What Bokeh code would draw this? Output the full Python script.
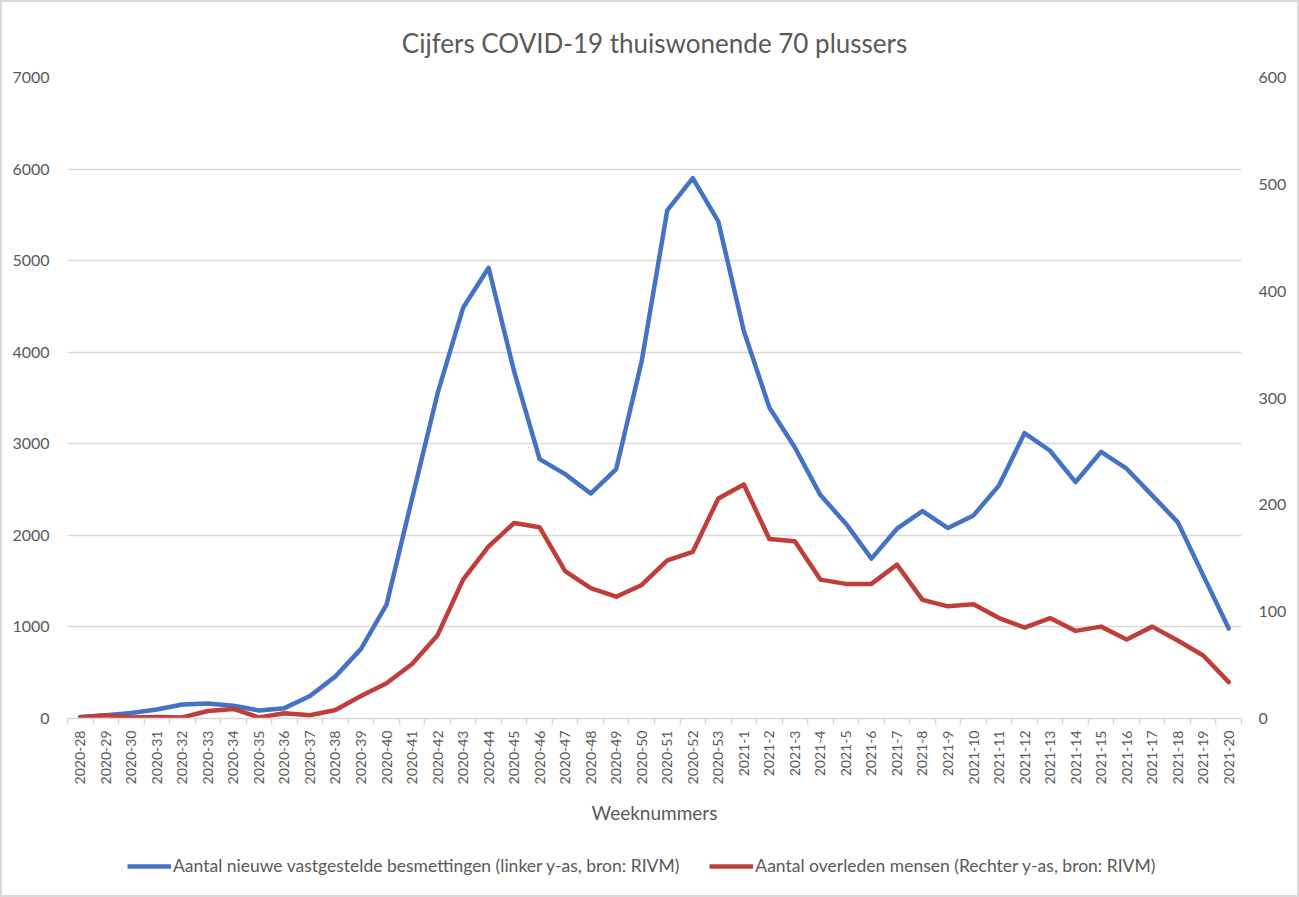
from math import pi
from bokeh.plotting import figure
from bokeh.layouts import column
from bokeh.models import Range1d, LinearAxis, FixedTicker, Legend, LegendItem
from bokeh.embed import file_html
from bokeh.resources import INLINE

weeks = [
    "2020-28", "2020-29", "2020-30", "2020-31", "2020-32", "2020-33", "2020-34",
    "2020-35", "2020-36", "2020-37", "2020-38", "2020-39", "2020-40", "2020-41",
    "2020-42", "2020-43", "2020-44", "2020-45", "2020-46", "2020-47", "2020-48",
    "2020-49", "2020-50", "2020-51", "2020-52", "2020-53",
    "2021-1", "2021-2", "2021-3", "2021-4", "2021-5", "2021-6", "2021-7",
    "2021-8", "2021-9", "2021-10", "2021-11", "2021-12", "2021-13", "2021-14",
    "2021-15", "2021-16", "2021-17", "2021-18", "2021-19", "2021-20",
]

besmettingen = [
    17, 36, 61, 98, 153, 164, 140, 88, 113, 245, 460, 760, 1243, 2400, 3550,
    4485, 4922, 3790, 2833, 2669, 2457, 2724, 3905, 5548, 5902, 5428,
    4232, 3396, 2960, 2440, 2128, 1746, 2073, 2265, 2080, 2218, 2546, 3117,
    2924, 2582, 2913, 2728, 2437, 2145, 1563, 982,
]

overleden = [
    1, 3, 1, 1.5, 1, 7, 9, 1, 5, 3, 8, 21, 33, 51, 78, 130, 161, 183, 179,
    138, 122, 114, 125, 148, 156, 206,
    219, 168, 166, 130, 126, 126, 144, 111, 105, 107, 94, 85, 94, 82, 86,
    74, 86, 73, 59, 34,
]

left_ticks = [0, 1000, 2000, 3000, 4000, 5000, 6000, 7000]
right_ticks = [0, 100, 200, 300, 400, 500, 600]

title_text = "Cijfers COVID-19 thuiswonende 70 plussers"
x_label = "Weeknummers"
label_blue = "Aantal nieuwe vastgestelde besmettingen (linker y-as, bron: RIVM)"
label_red = "Aantal overleden mensen (Rechter y-as, bron: RIVM)"

FONT = "Lato"
GREY = "#595959"
GRID = "#d9d9d9"
BLUE = "#4472C4"
RED = "#BF3E3A"

x = list(range(len(weeks)))

p = figure(
    width=1295, height=827,
    x_range=Range1d(-0.5, len(weeks) - 0.5),
    y_range=Range1d(0, 7000),
    output_backend="svg", toolbar_location=None,
    min_border_left=65, min_border_right=56, min_border_top=75, min_border_bottom=111,
)
p.extra_y_ranges = {"right": Range1d(0, 600)}

p.title.text = title_text
p.title.align = "center"
p.title.text_font = FONT
p.title.text_font_style = "normal"
p.title.text_font_size = "26px"
p.title.text_color = GREY
p.title.standoff = 38

p.outline_line_color = None
p.xgrid.grid_line_color = None
p.ygrid.grid_line_color = GRID
p.ygrid.grid_line_width = 1.5

# x axis
xa = p.xaxis[0]
xa.ticker = FixedTicker(ticks=x, minor_ticks=[i - 0.5 for i in range(len(weeks) + 1)])
xa.major_label_overrides = {i: w for i, w in enumerate(weeks)}
xa.major_label_orientation = pi / 2
xa.major_tick_line_color = None
xa.minor_tick_line_color = GRID
xa.minor_tick_line_width = 1.5
xa.minor_tick_out = 6
xa.minor_tick_in = 0
xa.axis_line_color = GRID
xa.axis_line_width = 1.5
xa.major_label_standoff = 6
xa.major_label_text_font = FONT
xa.major_label_text_font_size = "14px"
xa.major_label_text_color = GREY
xa.axis_label = x_label
xa.axis_label_text_font = FONT
xa.axis_label_text_font_style = "normal"
xa.axis_label_text_font_size = "19px"
xa.axis_label_text_color = GREY
xa.axis_label_standoff = 14

# left y axis
ya = p.yaxis[0]
ya.ticker = FixedTicker(ticks=left_ticks)
ya.axis_line_color = None
ya.major_tick_line_color = None
ya.minor_tick_line_color = None
ya.major_label_standoff = 12
ya.major_label_text_font = FONT
ya.major_label_text_font_size = "16px"
ya.major_label_text_color = GREY

# right y axis
ra = LinearAxis(y_range_name="right", ticker=FixedTicker(ticks=right_ticks))
ra.axis_line_color = None
ra.major_tick_line_color = None
ra.minor_tick_line_color = None
ra.major_label_standoff = 11
ra.major_label_text_font = FONT
ra.major_label_text_font_size = "16px"
ra.major_label_text_color = GREY
p.add_layout(ra, "right")

p.line(x, besmettingen, line_color=BLUE, line_width=4.5,
       line_join="round", line_cap="round")
p.line(x, overleden, y_range_name="right", line_color=RED, line_width=4.5,
       line_join="round", line_cap="round")

# legend strip below the chart (its handle lines fall outside its own empty ranges)
lg = figure(
    width=1295, height=66,
    x_range=Range1d(0, 1), y_range=Range1d(-2, -1),
    x_axis_type=None, y_axis_type=None,
    output_backend="svg", toolbar_location=None,
    min_border_left=0, min_border_right=0, min_border_top=0, min_border_bottom=0,
)
lg.grid.visible = False
lg.outline_line_color = None
k1 = lg.line(x, besmettingen, line_color=BLUE, line_width=4.5)
k2 = lg.line(x, overleden, line_color=RED, line_width=4.5)

legend = Legend(
    items=[LegendItem(label=label_blue, renderers=[k1]),
           LegendItem(label=label_red, renderers=[k2])],
    orientation="horizontal", location=(60, 19),
    border_line_color=None, background_fill_alpha=0,
    glyph_width=44, glyph_height=20, label_standoff=2, spacing=30,
    label_text_font=FONT, label_text_font_size="17.5px", label_text_color=GREY,
    label_height=20, margin=0, padding=0,
)
lg.add_layout(legend, "center")

layout = column(p, lg, spacing=0, styles={"border": "2px solid #d9d9d9"})

open("out.html", "w").write(file_html(layout, INLINE))
